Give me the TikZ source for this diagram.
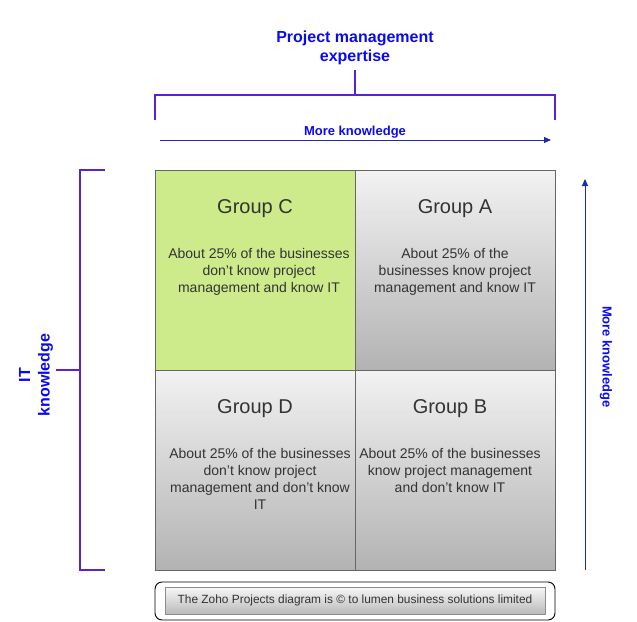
\documentclass[tikz,border=0pt]{standalone}
\usepackage{fontspec}
\setmainfont{Liberation Sans}
\usetikzlibrary{arrows.meta}

\definecolor{labelblue}{HTML}{0A0AF0}
\definecolor{bracketcol}{HTML}{5A23D2}
\definecolor{arrowblue}{HTML}{1A2EA8}
\definecolor{cellgray}{HTML}{666666}
\definecolor{textgray}{HTML}{333333}
\definecolor{groupgreen}{HTML}{CDEB8B}

\tikzset{
  cell/.style={draw=cellgray, line width=0.8pt, minimum width=200pt, minimum height=200pt, inner sep=0pt},
  greycell/.style={cell, top color=black!5, bottom color=black!30},
  greencell/.style={cell, fill=groupgreen},
  grouptitle/.style={text=textgray, font=\fontsize{20}{23}\selectfont},
  grouptext/.style={text=textgray, align=center, font=\fontsize{14}{17}\selectfont},
  axislabel/.style={text=labelblue, align=center, font=\bfseries\fontsize{13}{16}\selectfont},
  bracket/.style={draw=bracketcol, line width=1.8pt},
  axisarrow/.style={draw=arrowblue, line width=0.9pt, -{Triangle[length=7pt,width=6pt]}}
}

\begin{document}
\begin{tikzpicture}[x=1pt, y=-1pt]
\useasboundingbox (0,0) rectangle (637,621);

% project management axis
\node [text=labelblue, align=center, font=\bfseries\fontsize{16}{19.5}\selectfont] (pmtitle) at (355,48) {Project management\\expertise};
\coordinate (pmstem) at (355,70);
\coordinate (pmmid) at (355,95);
\coordinate (pmleft) at (155,95);
\coordinate (pmright) at (555,95);
\coordinate (pmleftend) at (155,120);
\coordinate (pmrightend) at (555,120);
\draw [bracket] (pmstem) -- (pmmid);
\draw [bracket] (pmleftend) -- (pmleft) -- (pmright) -- (pmrightend);
\node [axislabel] (pmmore) at (355,132) {More knowledge};
\coordinate (pmstart) at (160,140);
\coordinate (pmend) at (551,140);
\draw [axisarrow] (pmstart) -- (pmend);

% IT axis
\node [text=labelblue, align=center, rotate=90, font=\bfseries\fontsize{16}{19.5}\selectfont] (ittitle) at (36,375) {IT\\knowledge};
\coordinate (itstem) at (56,370);
\coordinate (itmid) at (80,370);
\coordinate (ittop) at (80,170);
\coordinate (itbottom) at (80,570);
\coordinate (ittopend) at (105,170);
\coordinate (itbottomend) at (105,570);
\draw [bracket] (itstem) -- (itmid);
\draw [bracket] (ittopend) -- (ittop) -- (itbottom) -- (itbottomend);
\coordinate (itstart) at (585,570);
\coordinate (itend) at (585,179);
\draw [axisarrow] (itstart) -- (itend);
\node [axislabel, rotate=-90] (itmore) at (606,357) {More knowledge};

% the four groups
\node [greencell] (grpC) at (255,270) {};
\node [greycell] (grpA) at (455,270) {};
\node [greycell] (grpD) at (255,470) {};
\node [greycell] (grpB) at (455,470) {};

\node [grouptitle] (titleC) at (255,209) {Group C};
\node [grouptitle] (titleA) at (455,209) {Group A};
\node [grouptitle] (titleD) at (255,409) {Group D};
\node [grouptitle] (titleB) at (450,409) {Group B};

\node [grouptext] (textC) at (259,272) {About 25\% of the businesses\\don’t know project\\management and know IT};
\node [grouptext] (textA) at (455,272) {About 25\% of the\\businesses know project\\management and know IT};
\node [grouptext] (textD) at (260,478.5) {About 25\% of the businesses\\don’t know project\\management and don’t know\\IT};
\node [grouptext] (textB) at (450,470) {About 25\% of the businesses\\know project management\\and don’t know IT};

% footer
\node [draw=black, line width=0.9pt, rounded corners=7pt, fill=white, minimum width=400pt, minimum height=38pt] (footer) at (355,601) {};
\node [draw=black!45, line width=0.8pt, top color=black!3, bottom color=black!27, minimum width=380pt, minimum height=27pt, text=textgray, font=\fontsize{11.9}{14}\selectfont] (footnote) at (355,600.5) {The Zoho Projects diagram is © to lumen business solutions limited};
\end{tikzpicture}
\end{document}
